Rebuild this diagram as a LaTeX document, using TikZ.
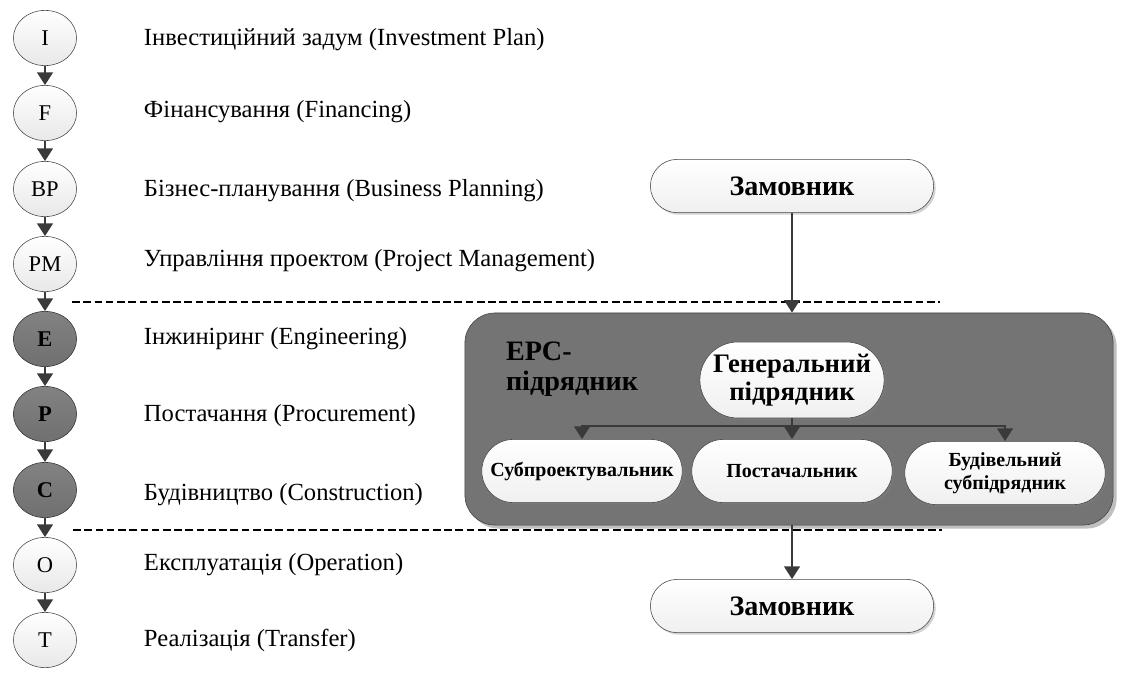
\documentclass[tikz,border=0pt]{standalone}
\usepackage{fontspec}
\setmainfont{Liberation Serif}
\usetikzlibrary{shapes,arrows.meta,positioning,calc,shadows}

\definecolor{linegray}{RGB}{58,58,58}
\definecolor{boxgray}{RGB}{116,116,116}
\definecolor{stagegray}{RGB}{130,130,130}
\definecolor{stagegraydk}{RGB}{112,112,112}

\tikzset{
  stage/.style={draw=gray!55!black, ellipse, minimum width=1.58cm, minimum height=1.38cm,
    inner sep=0pt, top color=white, bottom color=gray!18, font=\fontsize{16}{16}\selectfont},
  stagedark/.style={stage, draw=gray!40!black, top color=stagegray, bottom color=stagegraydk,
    font=\fontsize{16}{16}\selectfont\bfseries},
  phase/.style={anchor=west, font=\fontsize{17.5}{18}\selectfont},
  party/.style={draw=gray!55!black, rounded rectangle, top color=white, bottom color=gray!12,
    align=center, inner sep=2pt, font=\bfseries,
    drop shadow={opacity=0.35, shadow xshift=1.5pt, shadow yshift=-1.5pt}},
  arr/.style={draw=linegray, line width=1.8pt, -{Triangle[length=9pt,width=11pt]}},
  sep/.style={dashed, line width=1.6pt, dash pattern=on 5.5pt off 2.5pt},
}

\begin{document}
\begin{tikzpicture}[x=0.025cm, y=-0.025cm]
  \useasboundingbox (0,0) rectangle (1122,672);

  % Project stages
  \node[stage] (I) at (45,38) {I};
  \node[stage] (F) at (45,113) {F};
  \node[stage] (BP) at (45,189) {BP};
  \node[stage] (PM) at (45,264) {PM};
  \node[stagedark] (E) at (45,339) {E};
  \node[stagedark] (P) at (45,414) {P};
  \node[stagedark] (C) at (45,490) {C};
  \node[stage] (O) at (45,565) {O};
  \node[stage] (T) at (45,640) {T};

  \draw[arr] (I) -- (F);
  \draw[arr] (F) -- (BP);
  \draw[arr] (BP) -- (PM);
  \draw[arr] (PM) -- (E);
  \draw[arr] (E) -- (P);
  \draw[arr] (P) -- (C);
  \draw[arr] (C) -- (O);
  \draw[arr] (O) -- (T);

  % Stage names
  \node[phase] (tI) at (139,40) {Інвестиційний задум (Investment Plan)};
  \node[phase] (tF) at (139,112) {Фінансування (Financing)};
  \node[phase] (tBP) at (139,191) {Бізнес-планування (Business Planning)};
  \node[phase] (tPM) at (139,261) {Управління проектом (Project Management)};
  \node[phase] (tE) at (139,339) {Інжиніринг (Engineering)};
  \node[phase] (tP) at (139,416) {Постачання (Procurement)};
  \node[phase] (tC) at (139,495) {Будівництво (Construction)};
  \node[phase] (tO) at (139,565) {Експлуатація (Operation)};
  \node[phase] (tT) at (139,640) {Реалізація (Transfer)};

  % EPC block
  \node[draw=gray!50!black, fill=boxgray, rounded corners=0.75cm, minimum width=16.2cm,
    minimum height=5.3cm, drop shadow={opacity=0.5, shadow xshift=2.5pt, shadow yshift=-2.5pt}]
    (EPC) at (789,419) {};
  \node[font=\fontsize{20}{21}\selectfont\bfseries, align=left] (epct) at (572,369) {EPC-\\підрядник};
  \node[party, minimum width=4.4cm, minimum height=1.9cm, font=\fontsize{19}{20}\selectfont\bfseries]
    (GC) at (792,380) {Генеральний\\підрядник};
  \node[party, minimum width=5.15cm, minimum height=1.58cm, font=\fontsize{14.2}{16}\selectfont\bfseries]
    (SB) at (582,471) {Субпроектувальник};
  \node[party, minimum width=5.15cm, minimum height=1.58cm, font=\fontsize{14.2}{16}\selectfont\bfseries]
    (PS) at (792,471) {Постачальник};
  \node[party, minimum width=5.15cm, minimum height=1.58cm, font=\fontsize{14.2}{16}\selectfont\bfseries]
    (BS) at (1005,473) {Будівельний\\субпідрядник};

  \coordinate (bus) at (792,426);
  \draw[arr] (GC.south) -- (PS.north);
  \draw[arr] (bus) -| (SB.north);
  \draw[arr] (bus) -| (BS.north);

  % Customer
  \node[party, minimum width=7.22cm, minimum height=1.33cm, font=\fontsize{20}{20}\selectfont\bfseries]
    (Z1) at (792,186) {Замовник};
  \node[party, minimum width=7.22cm, minimum height=1.33cm, font=\fontsize{20}{20}\selectfont\bfseries]
    (Z2) at (792,606) {Замовник};

  % Contract borders
  \coordinate (d1a) at (72,302);
  \coordinate (d1b) at (940,302);
  \coordinate (d2a) at (73,530);
  \coordinate (d2b) at (942,530);
  \draw[sep] (d1a) -- (d1b);
  \draw[sep] (d2a) -- (d2b);

  \draw[arr] (Z1.south) -- (Z1.south |- EPC.north);
  \draw[arr] (Z2.north |- EPC.south) -- (Z2.north);
\end{tikzpicture}
\end{document}
